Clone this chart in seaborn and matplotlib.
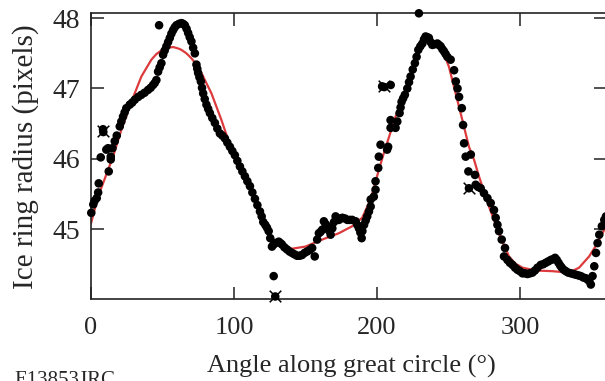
import matplotlib
matplotlib.use("Agg")
import matplotlib.pyplot as plt
import seaborn as sns
import pandas as pd

# ---- data ----
angle = [0.2, 1.6, 2.5, 4.0, 5.0, 5.4, 6.8, 10.7, 11.9, 12.4, 13.8, 13.8, 15.0, 16.6, 18.0,
         20.1, 21.2, 22.4, 23.5, 24.7, 27.1, 28.8, 30.6, 33.0, 35.2, 37.5, 39.9, 41.7, 43.4,
         44.6, 45.7, 46.9, 48.0, 49.2, 50.4, 51.5, 52.7, 53.9, 55.1, 56.2, 57.4, 58.5, 59.7,
         61.5, 63.2, 64.4, 65.6, 66.8, 67.9, 69.0, 70.2, 71.4, 72.6, 73.7, 74.3, 74.9, 75.8,
         76.8, 77.6, 78.4, 79.5, 80.7, 81.9, 83.1, 84.8, 86.6, 88.3, 90.1, 91.8, 93.6, 95.3,
         97.1, 98.8, 100.6, 102.3, 104.1, 105.8, 107.6, 109.3, 111.1, 112.8, 114.6, 116.3,
         118.1, 119.3, 120.4, 121.8, 123.0, 124.2, 125.3, 126.5, 127.7, 128.8, 131.2, 132.4,
         133.5, 135.2, 137.0, 138.8, 140.5, 142.2, 144.0, 145.8, 147.5, 149.3, 151.0, 152.8,
         154.6, 156.4, 158.1, 159.3, 160.5, 161.6, 162.8, 164.0, 165.1, 166.3, 167.5, 168.7,
         169.9, 171.0, 173.3, 174.5, 175.7, 177.5, 179.2, 180.9, 182.6, 185.0, 186.1, 187.3,
         188.3, 189.2, 189.7, 190.9, 192.0, 193.1, 194.3, 195.5, 195.5, 197.7, 198.9, 198.9,
         200.8, 201.2, 202.4, 207.0, 207.7, 209.4, 209.4, 212.9, 214.1, 215.7, 216.4, 217.1,
         218.2, 219.4, 221.1, 222.3, 223.4, 224.9, 226.4, 227.6, 228.8, 230.2, 231.6, 232.8,
         233.9, 235.0, 236.2, 237.4, 238.6, 240.3, 242.1, 243.2, 244.4, 245.6, 246.7, 247.9,
         249.1, 251.4, 253.8, 255.0, 256.2, 257.3, 259.2, 260.1, 260.8, 261.9, 263.8, 265.5,
         268.4, 268.9, 270.5, 272.4, 274.7, 277.1, 279.4, 281.7, 282.9, 284.1, 285.2, 287.1,
         288.7, 289.4, 291.1, 292.8, 294.6, 296.4, 298.1, 299.8, 301.6, 303.3, 305.1, 306.9,
         308.6, 310.3, 312.1, 314.4, 316.2, 317.9, 319.7, 321.4, 322.9, 324.4, 325.6, 326.8,
         328.0, 329.1, 330.5, 331.9, 333.6, 335.4, 337.2, 338.9, 340.7, 342.4, 344.2, 345.9,
         347.2, 348.3, 349.4, 350.6, 351.8, 353.0, 354.1, 355.3, 357.1, 358.8, 360.0,
         # isolated points
         47.6, 127.7, 229.2, 8.4, 8.6, 128.8, 203.5, 205.0, 209.5, 264.2]
radius = [45.23, 45.35, 45.40, 45.44, 45.52, 45.65, 46.02, 46.13, 46.15, 45.82, 45.99, 46.03, 46.15, 46.25, 46.33,
          46.46, 46.53, 46.60, 46.66, 46.72, 46.77, 46.80, 46.84, 46.88, 46.91, 46.94, 46.98, 47.01, 47.05,
          47.08, 47.12, 47.24, 47.30, 47.36, 47.48, 47.54, 47.60, 47.66, 47.72, 47.78, 47.83, 47.87, 47.90,
          47.92, 47.93, 47.92, 47.90, 47.85, 47.79, 47.73, 47.67, 47.58, 47.50, 47.34, 47.28, 47.22, 47.16,
          47.10, 47.01, 46.93, 46.85, 46.77, 46.71, 46.65, 46.58, 46.51, 46.43, 46.36, 46.33, 46.29, 46.23,
          46.17, 46.11, 46.05, 45.97, 45.89, 45.82, 45.75, 45.68, 45.61, 45.52, 45.43, 45.34,
          45.25, 45.18, 45.10, 45.06, 45.02, 44.97, 44.87, 44.75, 44.78, 44.80, 44.82, 44.80,
          44.78, 44.74, 44.71, 44.68, 44.66, 44.64, 44.62, 44.62, 44.63, 44.66, 44.68, 44.70,
          44.73, 44.61, 44.85, 44.94, 44.96, 44.99, 45.11, 45.07, 45.04, 44.98, 44.92, 45.01,
          45.10, 45.18, 45.13, 45.15, 45.16, 45.15, 45.13, 45.13, 45.13, 45.11, 45.06, 45.01,
          44.95, 44.87, 44.97, 45.06, 45.12, 45.18, 45.25, 45.32, 45.42, 45.46, 45.56, 45.68,
          45.87, 46.03, 46.20, 46.13, 46.17, 46.44, 46.55, 46.44, 46.53, 46.65, 46.73, 46.81,
          46.86, 46.91, 47.00, 47.09, 47.17, 47.27, 47.36, 47.45, 47.55, 47.60, 47.64, 47.70,
          47.74, 47.73, 47.72, 47.66, 47.62, 47.63, 47.64, 47.62, 47.60, 47.56, 47.53, 47.49,
          47.45, 47.41, 47.26, 47.10, 47.00, 46.88, 46.72, 46.48, 46.22, 46.03, 45.82, 46.06,
          45.77, 45.63, 45.60, 45.58, 45.51, 45.44, 45.37, 45.27, 45.16, 45.06, 44.97, 44.85,
          44.61, 44.73, 44.56, 44.52, 44.49, 44.45, 44.42, 44.40, 44.37, 44.37, 44.36, 44.37,
          44.38, 44.41, 44.45, 44.49, 44.50, 44.52, 44.54, 44.56, 44.57, 44.59, 44.56, 44.52,
          44.48, 44.45, 44.42, 44.40, 44.38, 44.37, 44.36, 44.35, 44.34, 44.33, 44.31, 44.30,
          44.28, 44.26, 44.21, 44.33, 44.47, 44.66, 44.80, 44.92, 45.04, 45.13, 45.18,
          47.90, 44.33, 48.07, 46.42, 46.38, 44.04, 47.03, 47.02, 47.05, 45.58]

flag_angle = [8.5, 128.8, 204.5, 264.2]
flag_radius = [46.40, 44.04, 47.03, 45.58]

fit_angle = [0, 4.9, 11.9, 15.4, 21.2, 28.2, 35.2, 42.2, 45.7, 50.4, 53.9, 57.4, 60.9, 63.2,
             66.7, 70.2, 73.7, 77.2, 84.2, 91.2, 98.2, 107.6, 114.6, 119.4, 124.1, 131.1,
             140.5, 149.9, 161.6, 173.2, 182.6, 189.6, 195.4, 201.2, 204.7, 212.9, 219.9,
             225.7, 231.6, 234.5, 237.4, 241.0, 245.6, 250.2, 254.9, 259.6, 264.2, 267.7,
             271.2, 278.2, 285.2, 292.2, 296.5, 301.6, 310.9, 322.6, 334.2, 341.2, 348.2,
             354.1, 360]
fit_radius = [45.08, 45.46, 45.84, 46.03, 46.41, 46.81, 47.17, 47.41, 47.49, 47.56, 47.58,
              47.59, 47.57, 47.55, 47.50, 47.43, 47.34, 47.22, 46.93, 46.55, 46.13, 45.80,
              45.42, 45.13, 44.92, 44.78, 44.72, 44.75, 44.85, 44.94, 45.04, 45.16, 45.42,
              45.84, 46.08, 46.60, 46.98, 47.36, 47.60, 47.66, 47.67, 47.63, 47.55, 47.31,
              46.93, 46.55, 46.17, 45.99, 45.75, 45.32, 44.94, 44.61, 44.51, 44.45, 44.41,
              44.40, 44.38, 44.45, 44.61, 44.80, 45.04]

x_ticks = [0, 100, 200, 300]
y_ticks = [45, 46, 47, 48]

# ---- plotting ----
sns.set_style("white")
plt.rcParams['font.family'] = ['Liberation Serif', 'DejaVu Serif']

fig = plt.figure(figsize=(6.05, 3.81), dpi=100)
ax = fig.add_axes([91 / 605, 1 - 299.3 / 381, 515 / 605, (299.3 - 13.3) / 381])

dots = pd.DataFrame({"angle": angle, "radius": radius})
fit = pd.DataFrame({"angle": fit_angle, "radius": fit_radius})
flags = pd.DataFrame({"angle": flag_angle, "radius": flag_radius})

sns.lineplot(data=fit, x="angle", y="radius", ax=ax, color="#dc3a3c", lw=1.6,
             sort=False, zorder=2)
sns.scatterplot(data=dots, x="angle", y="radius", ax=ax, color="black", s=38,
                edgecolor="none", zorder=3, clip_on=False)
sns.scatterplot(data=flags, x="angle", y="radius", ax=ax, color="black", marker="x",
                s=70, linewidth=1.1, zorder=4, clip_on=False)

ax.set_xlim(0, 360)
ax.set_ylim(44.0, 48.07)
ax.set_xticks(x_ticks)
ax.set_yticks(y_ticks)
ax.tick_params(direction="in", length=9, width=1.2, color="#333333",
               top=True, right=True, bottom=True, left=True)
ax.tick_params(axis="y", labelsize=20, pad=8)
ax.tick_params(axis="x", labelsize=19, pad=13)
for s in ax.spines.values():
    s.set_color("#222222")
    s.set_linewidth(1.2)

ax.set_xlabel("Angle along great circle (°)", fontsize=19)
ax.set_ylabel("Ice ring radius (pixels)", fontsize=21)
ax.xaxis.set_label_coords(0.505, -0.193)
ax.yaxis.set_label_coords(-0.100, 0.5)

fig.text(14 / 605, 1 - 371 / 381, "E13853JRC", fontsize=15, va="top", ha="left")

fig.savefig("out.png", dpi=100)
